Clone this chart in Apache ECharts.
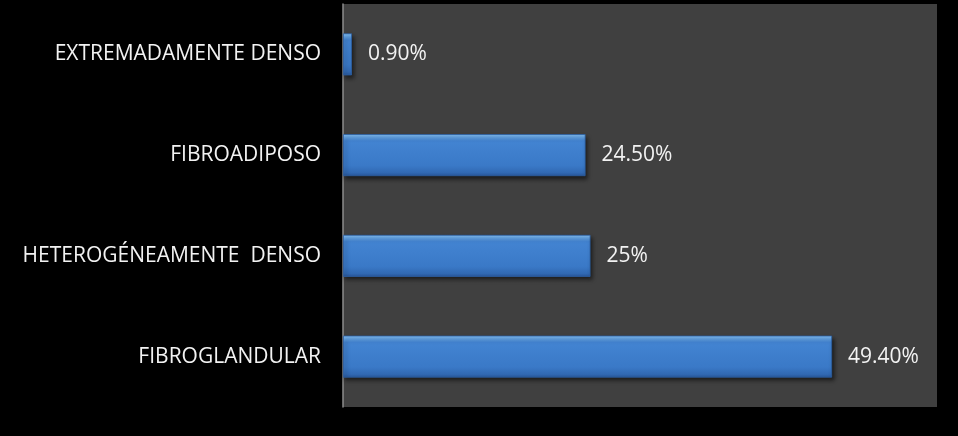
<!DOCTYPE html>
<html>
<head>
<meta charset="utf-8">
<script src="https://cdn.jsdelivr.net/npm/echarts@6/dist/echarts.min.js"></script>
<style>
  html, body { margin: 0; padding: 0; background: #000; }
  #chart { width: 958px; height: 436px; }
</style>
</head>
<body>
<div id="chart"></div>
<script>
// Breast tissue density categories (bottom to top) and their shares in percent
const categories = ['FIBROGLANDULAR', 'HETEROGÉNEAMENTE  DENSO', 'FIBROADIPOSO', 'EXTREMADAMENTE DENSO'];
const percentages = [49.4, 25, 24.5, 0.9];
const valueLabels = ['49.40%', '25%', '24.50%', '0.90%'];

const chart = echarts.init(document.getElementById('chart'), null, { renderer: 'canvas' });

// Bevelled blue fill: light top edge, solid body, darker bottom edge
const barFill = new echarts.graphic.LinearGradient(0, 0, 0, 1, [
  { offset: 0, color: '#86c2f4' },
  { offset: 0.09, color: '#5fa0e4' },
  { offset: 0.16, color: '#4384d2' },
  { offset: 0.75, color: '#3a79c7' },
  { offset: 0.92, color: '#3169b3' },
  { offset: 1, color: '#28579a' }
]);

chart.setOption({
  backgroundColor: '#000000',
  animation: false,
  grid: {
    left: 343, right: 21, top: 4, bottom: 29,
    show: true, backgroundColor: '#404040', borderWidth: 0
  },
  xAxis: {
    type: 'value', min: 0, max: 60,
    show: false,
    splitLine: { show: false }
  },
  yAxis: {
    type: 'category',
    data: categories,
    axisLine: { show: true, lineStyle: { color: '#8c8c8c', width: 1.5 } },
    axisTick: { show: false },
    axisLabel: {
      color: '#f2f2f2',
      fontFamily: 'Open Sans',
      fontSize: 21,
      margin: 22
    }
  },
  series: [{
    type: 'bar',
    data: percentages,
    barWidth: 42,
    itemStyle: {
      color: barFill,
      borderColor: '#2c5fa3',
      borderWidth: 0.8,
      shadowColor: 'rgba(0,0,0,0.55)',
      shadowBlur: 4,
      shadowOffsetX: 2,
      shadowOffsetY: 3
    },
    label: {
      show: true,
      position: 'right',
      distance: 16,
      color: '#f2f2f2',
      fontFamily: 'Open Sans',
      fontSize: 21,
      formatter: p => valueLabels[p.dataIndex]
    }
  }]
});
</script>
</body>
</html>
